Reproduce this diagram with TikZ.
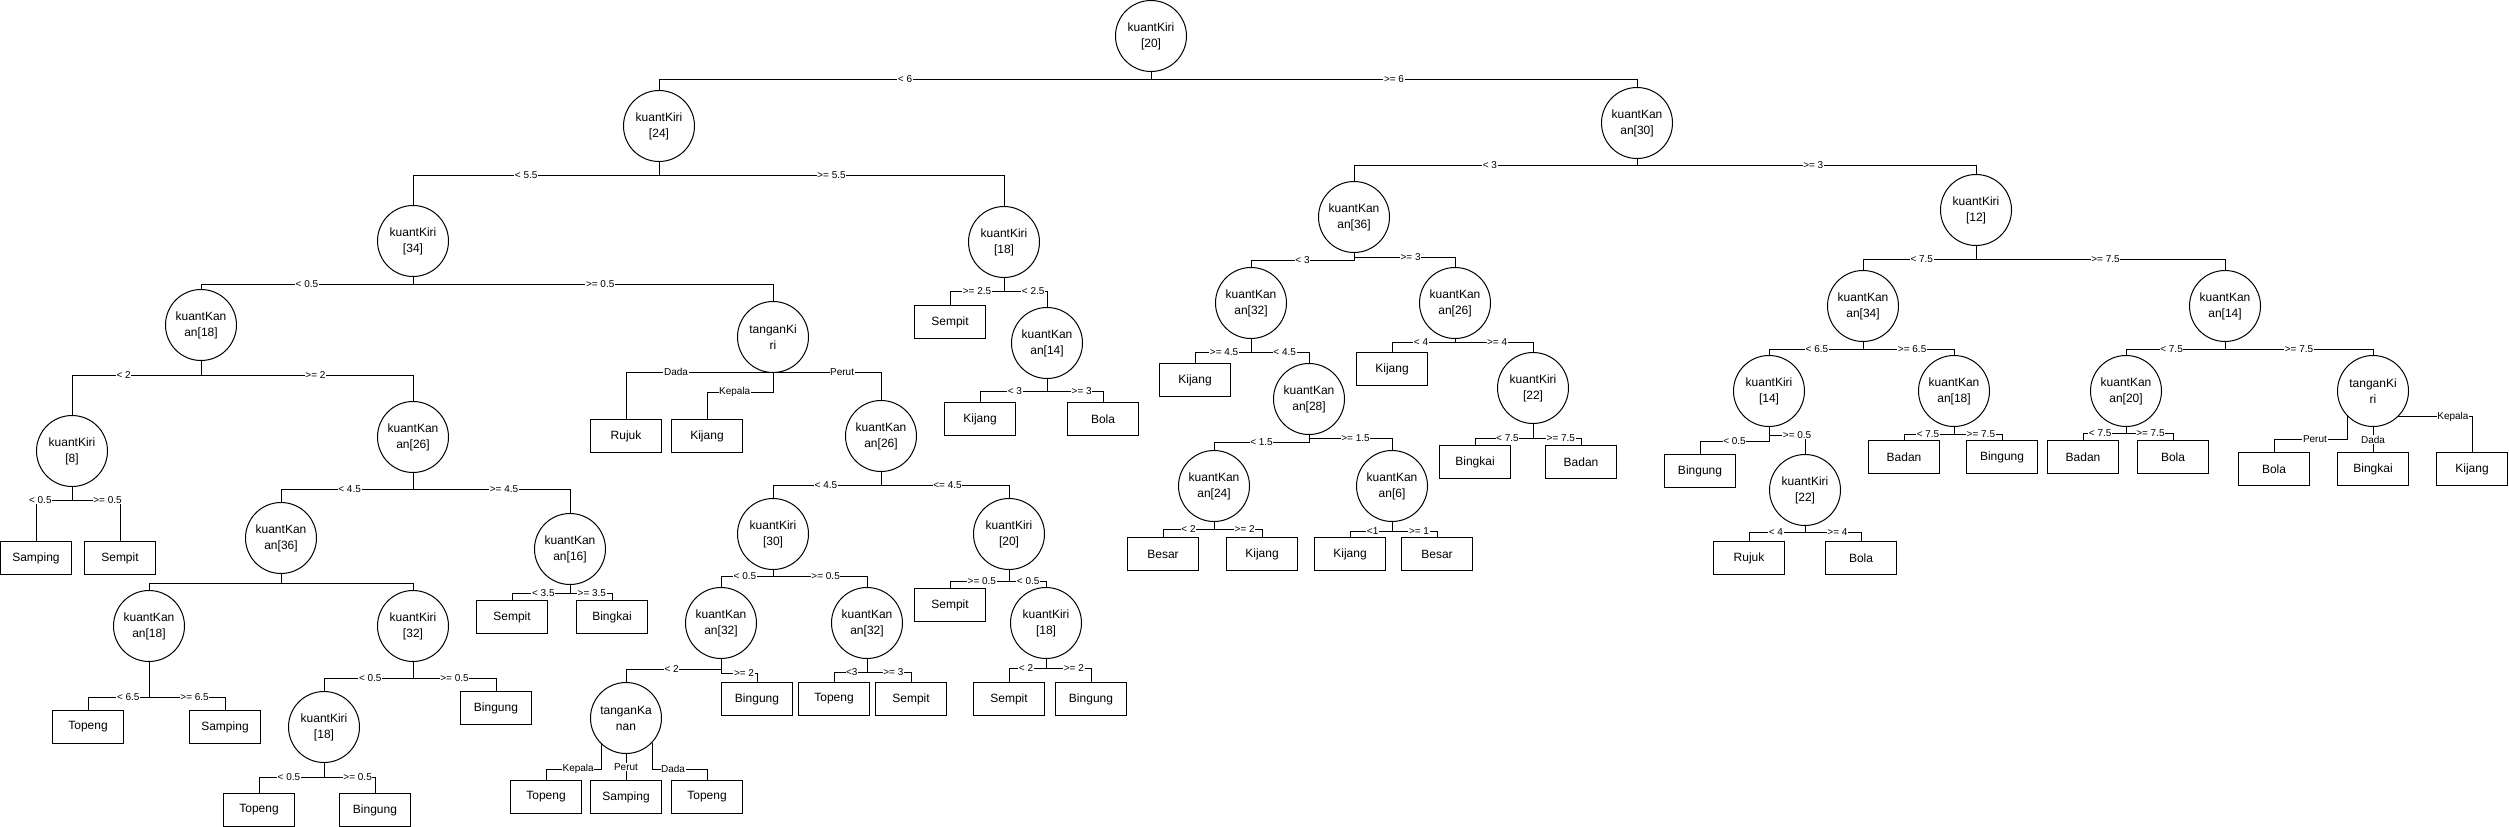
\documentclass[tikz,border=0pt]{standalone}
\usepackage{fontspec}
\setmainfont{Liberation Sans}
\tikzset{
 cn/.style={circle, draw, line width=1pt, minimum size=71pt, inner sep=0pt, align=center, font=\fontsize{12}{16}\selectfont},
 bx/.style={rectangle, draw, line width=1.3pt, minimum width=71pt, minimum height=33pt, inner sep=0pt, font=\fontsize{12}{14}\selectfont},
 conn/.style={line width=1pt},
 lbl/.style={fill=white, inner sep=0.6pt, font=\fontsize{10}{12}\selectfont},
}
\newcommand\br[5]{\draw[conn] (#1.south) -- (#1.south |- 0,#3) -| (#2.north) node[lbl,pos=#5]{#4};}
\newcommand\brn[3]{\draw[conn] (#1.south) -- (#1.south |- 0,#3) -| (#2.north);}
\begin{document}
\begin{tikzpicture}[x=1pt,y=-1pt]
\fill[white] (0,0) rectangle (2509,827);
\useasboundingbox (0,0) rectangle (2509,827);
% ---------- circles ----------
\node[cn] (r) at (1151,36) {kuantKiri\\{[20]}};
\node[cn] (kKiri24) at (659,126) {kuantKiri\\{[24]}};
\node[cn] (kKanan30) at (1637,123) {kuantKan\\an[30]};
\node[cn] (kKiri34) at (413,241) {kuantKiri\\{[34]}};
\node[cn] (kKiri18a) at (1004,242) {kuantKiri\\{[18]}};
\node[cn] (kKanan18a) at (201,325) {kuantKan\\an[18]};
\node[cn] (tKiriA) at (773,337) {tanganKi\\ri};
\node[cn] (kKiri8) at (72,451) {kuantKiri\\{[8]}};
\node[cn] (kKanan26a) at (413,437) {kuantKan\\an[26]};
\node[cn] (kKanan36a) at (281,538) {kuantKan\\an[36]};
\node[cn] (kKanan16) at (570,549) {kuantKan\\an[16]};
\node[cn] (kKanan18b) at (149,626) {kuantKan\\an[18]};
\node[cn] (kKiri32) at (413,626) {kuantKiri\\{[32]}};
\node[cn] (kKiri18b) at (324,727) {kuantKiri\\{[18]}};
\node[cn] (kKanan26b) at (881,436) {kuantKan\\an[26]};
\node[cn] (kKiri30) at (773,534) {kuantKiri\\{[30]}};
\node[cn] (kKiri20b) at (1009,534) {kuantKiri\\{[20]}};
\node[cn] (kKanan32a) at (721,623) {kuantKan\\an[32]};
\node[cn] (kKanan32b) at (867,623) {kuantKan\\an[32]};
\node[cn] (tKanan) at (626,718) {tanganKa\\nan};
\node[cn] (kKiri18c) at (1046,623) {kuantKiri\\{[18]}};
\node[cn] (kKanan14a) at (1047,343) {kuantKan\\an[14]};
\node[cn] (kKanan36b) at (1354,217) {kuantKan\\an[36]};
\node[cn] (kKiri12) at (1976,210) {kuantKiri\\{[12]}};
\node[cn] (kKanan32c) at (1251,303) {kuantKan\\an[32]};
\node[cn] (kKanan26c) at (1455,303) {kuantKan\\an[26]};
\node[cn] (kKanan28) at (1309,399) {kuantKan\\an[28]};
\node[cn] (kKanan24) at (1214,486) {kuantKan\\an[24]};
\node[cn] (kKanan6) at (1392,486) {kuantKan\\an[6]};
\node[cn] (kKiri22a) at (1533,388) {kuantKiri\\{[22]}};
\node[cn] (kKanan34) at (1863,306) {kuantKan\\an[34]};
\node[cn] (kKanan14b) at (2225,306) {kuantKan\\an[14]};
\node[cn] (kKiri14) at (1769,391) {kuantKiri\\{[14]}};
\node[cn] (kKanan18c) at (1954,391) {kuantKan\\an[18]};
\node[cn] (kKiri22b) at (1805,490) {kuantKiri\\{[22]}};
\node[cn] (kKanan20) at (2126,391) {kuantKan\\an[20]};
\node[cn] (tKiriB) at (2373,391) {tanganKi\\ri};
% ---------- boxes ----------
\node[bx] (bSamping1) at (36,558) {Samping};
\node[bx] (bSempit1) at (120,558) {Sempit};
\node[bx] (bTopeng1) at (88,727) {Topeng};
\node[bx] (bSamping2) at (225,727) {Samping};
\node[bx] (bBingung1) at (496,708) {Bingung};
\node[bx] (bTopeng2) at (259,810) {Topeng};
\node[bx] (bBingung2) at (375,810) {Bingung};
\node[bx] (bSempit2) at (512,617) {Sempit};
\node[bx] (bBingkai1) at (612,617) {Bingkai};
\node[bx] (bRujuk1) at (626,436) {Rujuk};
\node[bx] (bKijang1) at (707,436) {Kijang};
\node[bx] (bBingung3) at (757,699) {Bingung};
\node[bx] (bTopeng3) at (546,797) {Topeng};
\node[bx] (bSamping3) at (626,797) {Samping};
\node[bx] (bTopeng4) at (707,797) {Topeng};
\node[bx] (bTopeng5) at (834,699) {Topeng};
\node[bx] (bSempit3) at (911,699) {Sempit};
\node[bx] (bSempit4) at (950,605) {Sempit};
\node[bx] (bSempit5) at (1009,699) {Sempit};
\node[bx] (bBingung4) at (1091,699) {Bingung};
\node[bx] (bSempit6) at (950,322) {Sempit};
\node[bx] (bKijang2) at (980,419) {Kijang};
\node[bx] (bBola1) at (1103,419) {Bola};
\node[bx] (bKijang3) at (1195,380) {Kijang};
\node[bx] (bBesar1) at (1163,554) {Besar};
\node[bx] (bKijang4) at (1262,554) {Kijang};
\node[bx] (bKijang5) at (1350,554) {Kijang};
\node[bx] (bBesar2) at (1437,554) {Besar};
\node[bx] (bKijang6) at (1392,369) {Kijang};
\node[bx] (bBingkai2) at (1475,462) {Bingkai};
\node[bx] (bBadan1) at (1581,462) {Badan};
\node[bx] (bBingung5) at (1700,471) {Bingung};
\node[bx] (bRujuk2) at (1749,558) {Rujuk};
\node[bx] (bBola2) at (1861,558) {Bola};
\node[bx] (bBadan2) at (1904,457) {Badan};
\node[bx] (bBingung6) at (2002,457) {Bingung};
\node[bx] (bBadan3) at (2083,457) {Badan};
\node[bx] (bBola3) at (2173,457) {Bola};
\node[bx] (bBola4) at (2274,469) {Bola};
\node[bx] (bBingkai3) at (2373,469) {Bingkai};
\node[bx] (bKijang7) at (2472,469) {Kijang};
% ---------- connectors ----------
\br{r}{kKiri24}{79}{< 6}{0.25}
\br{r}{kKanan30}{79}{>= 6}{0.25}
\br{kKiri24}{kKiri34}{175}{< 5.5}{0.27}
\br{kKiri24}{kKiri18a}{175}{>= 5.5}{0.25}
\br{kKiri34}{kKanan18a}{284}{< 0.5}{0.25}
\br{kKiri34}{tKiriA}{284}{>= 0.5}{0.26}
\br{kKanan18a}{kKiri8}{375}{< 2}{0.30}
\br{kKanan18a}{kKanan26a}{375}{>= 2}{0.27}
\br{kKiri8}{bSamping1}{500}{< 0.5}{0.44}
\br{kKiri8}{bSempit1}{500}{>= 0.5}{0.37}
\br{kKanan26a}{kKanan36a}{489}{< 4.5}{0.24}
\br{kKanan26a}{kKanan16}{489}{>= 4.5}{0.29}
\brn{kKanan36a}{kKanan18b}{583}
\brn{kKanan36a}{kKiri32}{583}
\br{kKanan18b}{bTopeng1}{697}{< 6.5}{0.17}
\br{kKanan18b}{bSamping2}{697}{>= 6.5}{0.30}
\br{kKiri32}{kKiri18b}{678}{< 0.5}{0.24}
\br{kKiri32}{bBingung1}{678}{>= 0.5}{0.25}
\br{kKiri18b}{bTopeng2}{777}{< 0.5}{0.27}
\br{kKiri18b}{bBingung2}{777}{>= 0.5}{0.33}
\br{kKanan16}{bSempit2}{593}{< 3.5}{0.23}
\br{kKanan16}{bBingkai1}{593}{>= 3.5}{0.26}
\br{tKiriA}{bRujuk1}{372}{Dada}{0.33}
\br{tKiriA}{bKijang1}{392}{Kepala}{0.29}
\br{tKiriA}{kKanan26b}{372}{Perut}{0.32}
\br{kKanan26b}{kKiri30}{485}{< 4.5}{0.255}
\br{kKanan26b}{kKiri20b}{485}{<= 4.5}{0.26}
\br{kKiri30}{kKanan32a}{576}{< 0.5}{0.27}
\br{kKiri30}{kKanan32b}{576}{>= 0.5}{0.28}
\br{kKanan32a}{tKanan}{669}{< 2}{0.26}
\br{kKanan32a}{bBingung3}{673}{>= 2}{0.32}
\draw[conn] (tKanan.-133) -- (tKanan.-133 |- 0,769) -| (bTopeng3.north) node[lbl,pos=0.21]{Kepala};
\draw[conn] (tKanan.south) -- (bSamping3.north) node[lbl,pos=0.5]{Perut};
\draw[conn] (tKanan.-43) -- (tKanan.-43 |- 0,769) -| (bTopeng4.north) node[lbl,pos=0.19]{Dada};
\br{kKanan32b}{bTopeng5}{672}{<3}{0.23}
\br{kKanan32b}{bSempit3}{672}{>= 3}{0.30}
\br{kKiri20b}{bSempit4}{581}{>= 0.5}{0.23}
\br{kKiri20b}{kKiri18c}{581}{< 0.5}{0.26}
\br{kKiri18c}{bSempit5}{668}{< 2}{0.27}
\br{kKiri18c}{bBingung4}{668}{>= 2}{0.31}
\br{kKiri18a}{bSempit6}{291}{>= 2.5}{0.25}
\br{kKiri18a}{kKanan14a}{291}{< 2.5}{0.34}
\br{kKanan14a}{bKijang2}{391}{< 3}{0.24}
\br{kKanan14a}{bBola1}{391}{>= 3}{0.31}
\br{kKanan30}{kKanan36b}{165}{< 3}{0.26}
\br{kKanan30}{kKiri12}{165}{>= 3}{0.26}
\br{kKanan36b}{kKanan32c}{260}{< 3}{0.25}
\br{kKanan36b}{kKanan26c}{257}{>= 3}{0.28}
\br{kKanan32c}{bKijang3}{352}{>= 4.5}{0.24}
\br{kKanan32c}{kKanan28}{352}{< 4.5}{0.29}
\br{kKanan28}{kKanan24}{442}{< 1.5}{0.25}
\br{kKanan28}{kKanan6}{438}{>= 1.5}{0.28}
\br{kKanan24}{bBesar1}{529}{< 2}{0.25}
\br{kKanan24}{bKijang4}{529}{>= 2}{0.32}
\br{kKanan6}{bKijang5}{531}{<1}{0.23}
\br{kKanan6}{bBesar2}{531}{>= 1}{0.30}
\br{kKanan26c}{bKijang6}{342}{< 4}{0.27}
\br{kKanan26c}{kKiri22a}{342}{>= 4}{0.27}
\br{kKiri22a}{bBingkai2}{438}{< 7.5}{0.22}
\br{kKiri22a}{bBadan1}{438}{>= 7.5}{0.29}
\br{kKiri12}{kKanan34}{259}{< 7.5}{0.24}
\br{kKiri12}{kKanan14b}{259}{>= 7.5}{0.26}
\br{kKanan34}{kKiri14}{349}{< 6.5}{0.245}
\br{kKanan34}{kKanan18c}{349}{>= 6.5}{0.27}
\br{kKiri14}{bBingung5}{441}{< 0.5}{0.25}
\br{kKiri14}{kKiri22b}{435}{>= 0.5}{0.39}
\br{kKiri22b}{bRujuk2}{532}{< 4}{0.26}
\br{kKiri22b}{bBola2}{532}{>= 4}{0.29}
\br{kKanan18c}{bBadan2}{434}{< 7.5}{0.26}
\br{kKanan18c}{bBingung6}{434}{>= 7.5}{0.28}
\br{kKanan14b}{kKanan20}{349}{< 7.5}{0.27}
\br{kKanan14b}{tKiriB}{349}{>= 7.5}{0.25}
\br{kKanan20}{bBadan3}{433}{< 7.5}{0.30}
\br{kKanan20}{bBola3}{433}{>= 7.5}{0.26}
\draw[conn] (tKiriB.-136) -- (tKiriB.-136 |- 0,439) -| (bBola4.north) node[lbl,pos=0.22]{Perut};
\draw[conn] (tKiriB.south) -- (bBingkai3.north) node[lbl,pos=0.5]{Dada};
\draw[conn] (tKiriB.-45) -| (bKijang7.north) node[lbl,pos=0.37]{Kepala};
\end{tikzpicture}
\end{document}
